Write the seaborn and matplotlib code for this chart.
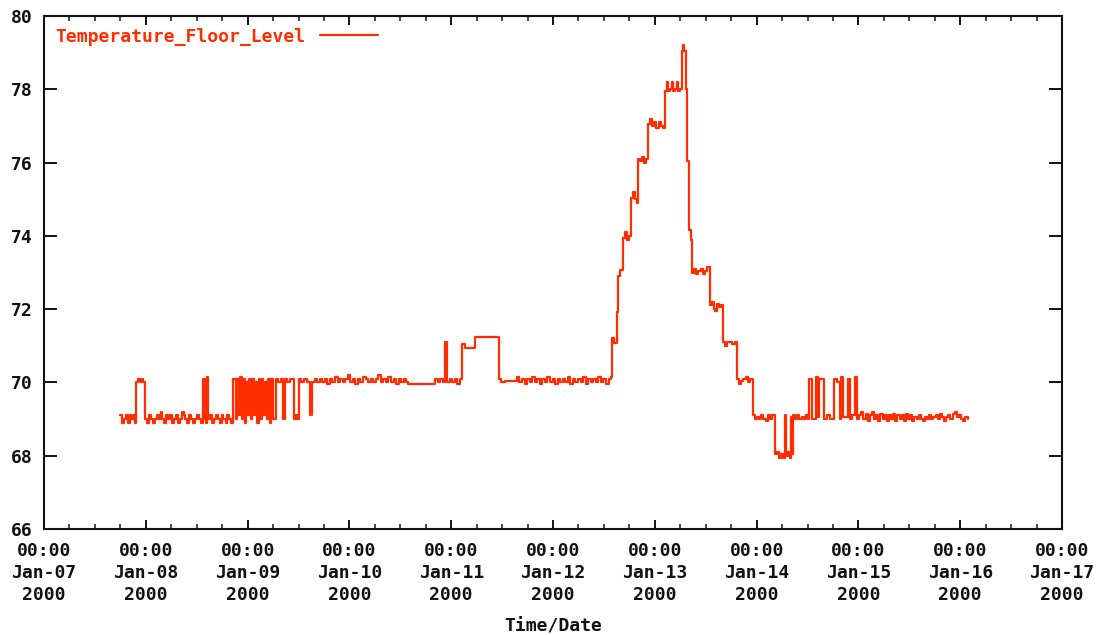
import numpy as np
import pandas as pd
import matplotlib
matplotlib.use('Agg')
import matplotlib.pyplot as plt
import matplotlib.dates as mdates
import seaborn as sns

series_name = 'Temperature_Floor_Level'
start_time = '2000-01-07 00:00'
x_range = ['2000-01-07 00:00', '2000-01-17 00:00']
y_ticks = [66, 68, 70, 72, 74, 76, 78, 80]
x_label = 'Time/Date'

# readings: hours after Jan-07 00:00 and temperature (step data)
hours = [
    17.9, 18.3, 18.8, 19.3, 19.8, 20.2, 20.6, 21.0, 21.4, 21.7, 22.1, 22.6, 23.0, 23.4,
    23.8, 24.2, 24.7, 25.2, 25.6, 26.1, 26.6, 27.0, 27.5, 27.9, 28.4, 28.8, 29.3, 29.8,
    30.2, 30.7, 31.1, 31.6, 32.0, 32.5, 32.9, 33.3, 33.8, 34.2, 34.7, 35.1, 35.6, 36.0,
    36.5, 36.9, 37.4, 37.6, 37.9, 38.2, 38.4, 38.7, 39.2, 39.6, 40.1, 40.5, 41.0, 41.4,
    41.9, 42.3, 42.8, 43.2, 43.7, 44.1,
    44.6, 45.2, 45.6, 46.0, 46.3, 46.7, 47.0, 47.4, 47.7, 48.1, 48.4, 48.8, 49.1, 49.5,
    49.8, 50.3, 50.6, 51.0, 51.3, 51.7, 52.0, 52.5, 52.8, 53.3, 53.6, 54.0, 54.6,
    55.2, 55.8, 56.3, 56.8, 57.4, 58.0, 58.9, 59.3, 59.6, 60.0, 60.7, 61.3, 62.0, 62.7, 63.2,
    63.8, 64.4, 65.0, 65.6, 66.2, 66.8, 67.4, 68.0, 68.6, 69.2, 69.8, 70.4, 71.0, 71.6,
    72.2, 72.8, 73.4, 74.0, 74.6, 75.2, 75.8, 76.4, 77.0, 77.6, 78.2, 78.8, 79.4, 80.0,
    80.6, 81.2, 81.8, 82.4, 83.0, 83.6, 84.2, 84.8, 85.3, 85.8,
    92.2, 92.8, 93.4, 94.0, 94.5, 95.0, 95.6, 96.2, 96.8, 97.4, 98.0, 98.5, 99.3, 101.6,
    107.3, 107.8, 108.7, 111.5,
    112.1, 112.7, 113.3, 113.9, 114.5, 115.1, 115.7, 116.3, 116.9, 117.5, 118.1, 118.7,
    119.3, 119.9, 120.5, 121.1, 121.7, 122.3, 122.9, 123.5, 124.1, 124.7, 125.3, 125.9,
    126.5, 127.1, 127.7, 128.3, 128.9, 129.5, 130.1, 130.7, 131.3, 131.9, 132.5, 133.1, 133.6,
    133.9, 134.3, 135.1, 135.3, 135.8, 136.5, 137.0, 137.4, 138.0, 138.4, 138.9, 139.3,
    139.7, 140.0, 140.5, 141.0, 141.5, 142.0, 142.4, 142.9, 143.4, 143.9, 144.4, 144.9,
    145.4, 145.9, 146.4, 146.8, 147.0, 147.5, 148.0, 148.2, 148.8, 149.3, 149.5, 150.0,
    150.4, 150.7, 151.0, 151.4, 151.6, 152.1, 152.5, 152.8, 153.3, 153.8, 154.3, 154.8,
    155.3, 155.8, 156.3, 157.0, 157.5, 157.9, 158.3, 158.7, 159.2, 159.6, 160.1, 160.6,
    161.0, 161.6, 162.2, 162.8, 163.4, 163.9, 164.4, 164.9, 165.4, 165.9, 166.4,
    167.1, 167.6, 168.1, 168.6, 169.1, 169.6, 170.1, 170.6, 171.1, 171.6,
    172.3, 172.8, 173.3, 173.8, 174.2, 174.7, 175.0, 175.5, 175.9, 176.2, 176.4, 176.6,
    177.1, 177.6, 178.1, 178.6, 179.1, 179.6, 180.1,
    180.4, 181.1, 182.0, 182.5, 182.7, 183.9, 184.5, 185.2, 186.2, 187.0, 187.7, 187.9,
    188.4, 189.5, 190.0, 190.6, 191.2, 191.7,
    192.2, 192.7, 193.2, 193.7, 194.2, 194.7, 195.2, 195.7, 196.2, 196.7, 197.2, 197.7,
    198.2, 198.7, 199.2, 199.7, 200.2, 200.7, 201.2, 201.7, 202.2, 202.7, 203.2, 203.7,
    204.2, 204.7, 205.2, 205.7, 206.2, 206.7, 207.2, 207.7, 208.2, 208.7, 209.2, 209.7,
    210.2, 210.7, 211.2, 211.7, 212.2, 212.7, 213.2, 213.7, 214.2, 214.7, 215.2, 215.7,
    216.2, 216.7, 217.2, 217.8,
]
temps = [
    69.1, 68.9, 69.0, 69.1, 68.9, 69.1, 69.0, 69.1, 68.9, 70.0, 70.1, 70.0, 70.1, 70.0,
    69.0, 68.9, 69.1, 69.0, 68.9, 69.0, 69.1, 69.0, 69.2, 69.0, 68.9, 69.1, 69.0, 69.1,
    68.9, 69.0, 69.1, 68.9, 69.0, 69.2, 69.1, 69.0, 68.9, 69.1, 69.0, 68.9, 69.0, 69.1,
    69.0, 68.9, 69.0, 70.1, 69.0, 68.9, 70.15, 69.0, 69.1, 68.9, 69.0, 69.1, 69.0, 68.9,
    69.1, 69.0, 68.9, 69.1, 69.0, 68.9,
    70.1, 69.0, 70.1, 69.1, 70.15, 69.0, 70.1, 68.9, 70.0, 69.1, 70.1, 69.0, 70.1, 69.1,
    70.0, 68.9, 70.1, 69.0, 70.1, 69.1, 70.0, 69.0, 70.1, 68.9, 70.1, 69.0, 70.1,
    70.0, 70.1, 69.0, 70.1, 70.0, 70.1, 69.0, 69.1, 69.0, 70.1, 70.0, 70.1, 70.0, 69.1, 70.0,
    70.1, 70.0, 70.1, 70.0, 70.1, 69.95, 70.1, 70.0, 70.15, 70.0, 70.1, 70.0, 70.1, 70.2,
    70.0, 70.1, 69.95, 70.1, 70.0, 70.15, 70.1, 70.0, 70.1, 70.0, 70.1, 70.2, 70.0, 70.1,
    70.0, 70.15, 70.0, 70.1, 69.95, 70.1, 70.0, 70.1, 70.0, 69.97,
    70.1, 70.0, 70.1, 70.0, 71.1, 70.0, 70.1, 70.0, 70.1, 69.97, 70.1, 71.05, 70.95, 71.25,
    70.1, 70.0, 70.05, 70.15,
    70.0, 70.1, 69.95, 70.1, 70.0, 70.15, 70.0, 70.1, 69.95, 70.1, 70.0, 70.15,
    70.0, 70.1, 69.95, 70.1, 70.0, 70.1, 70.0, 70.15, 69.95, 70.1, 70.0, 70.1,
    70.0, 70.15, 69.95, 70.1, 70.0, 70.1, 70.0, 70.15, 70.0, 70.1, 69.95, 70.1, 70.15,
    71.2, 71.07, 71.93, 72.9, 73.07, 73.94, 74.1, 73.9, 74.0, 75.03, 75.2, 75.0,
    74.9, 76.1, 76.05, 76.15, 76.0, 76.1, 77.05, 77.2, 77.0, 77.1, 76.95, 77.1,
    77.0, 76.95, 77.95, 78.2, 77.95, 78.0, 78.2, 77.95, 78.0, 78.2, 77.95, 78.0,
    79.05, 79.2, 79.05, 78.0, 76.05, 74.15, 73.9, 73.0, 73.1, 72.95, 73.05, 73.1,
    72.95, 73.05, 73.15, 72.1, 72.2, 72.0, 71.95, 72.15, 72.05, 72.1, 71.1, 71.0,
    71.1, 71.1, 71.05, 71.1, 70.1, 69.95, 70.05, 70.1, 70.15, 70.0, 70.1,
    69.1, 69.0, 69.05, 69.0, 69.1, 69.0, 68.95, 69.1, 69.0, 69.1,
    68.05, 68.1, 67.95, 68.05, 67.95, 69.1, 68.0, 68.1, 67.95, 69.05, 68.05, 69.1,
    69.0, 69.1, 69.0, 69.05, 69.0, 69.1, 69.0,
    70.1, 69.0, 70.15, 69.05, 70.1, 69.0, 69.1, 69.0, 70.1, 70.0, 69.0, 70.15,
    69.05, 70.1, 69.0, 69.1, 70.15, 69.0,
    69.1, 69.2, 69.0, 69.15, 68.95, 69.1, 69.2, 69.0, 69.1, 68.95, 69.15, 69.0,
    69.1, 68.95, 69.1, 69.0, 69.15, 68.95, 69.1, 69.0, 69.1, 68.95, 69.15, 69.0,
    69.1, 68.95, 69.05, 69.0, 69.1, 69.0, 68.95, 69.05, 69.0, 69.1, 69.0, 69.05,
    69.1, 69.0, 69.15, 69.05, 68.95, 69.05, 69.1, 69.0, 69.15, 69.2, 69.05, 69.1,
    69.0, 68.95, 69.05, 69.0,
]

line_color = '#ff2d00'
font_size = 13

sns.set_style('ticks')
plt.rcParams['font.family'] = ['DejaVu Sans Mono', 'DejaVu Sans']
plt.rcParams['font.weight'] = 'bold'
plt.rcParams['axes.labelweight'] = 'bold'

df = pd.DataFrame({
    'time': pd.Timestamp(start_time) + pd.to_timedelta(hours, unit='h'),
    series_name: temps,
})

W, H = 1099, 635
fig = plt.figure(figsize=(W / 100, H / 100), dpi=100)
ax = fig.add_axes([44 / W, (H - 529) / H, (1062 - 44) / W, (529 - 16) / H])

sns.lineplot(data=df, x='time', y=series_name, drawstyle='steps-post',
             color=line_color, linewidth=1.6, label=series_name, ax=ax)

ax.set_xlim(pd.Timestamp(x_range[0]), pd.Timestamp(x_range[1]))
ax.set_ylim(y_ticks[0], y_ticks[-1])
ax.set_yticks(y_ticks)
ax.xaxis.set_major_locator(mdates.DayLocator())
ax.xaxis.set_minor_locator(mdates.HourLocator(byhour=[6, 12, 18]))
ax.xaxis.set_major_formatter(mdates.DateFormatter('%H:%M\n%b-%d\n%Y'))

for s in ax.spines.values():
    s.set_linewidth(1.5)
    s.set_color('#111111')

ax.tick_params(axis='x', which='major', direction='in', length=6.5, width=1.4,
               top=True, bottom=True, pad=9, labelsize=font_size, colors='#111111')
ax.tick_params(axis='x', which='minor', direction='in', length=3.3, width=1.2,
               top=True, bottom=True)
ax.tick_params(axis='y', which='major', direction='in', length=9.5, width=1.4,
               left=True, right=True, pad=8, labelsize=font_size, colors='#111111')
for lbl in ax.get_xticklabels() + ax.get_yticklabels():
    lbl.set_fontweight('bold')
    lbl.set_linespacing(1.3)

ax.set_xlabel(x_label, fontsize=font_size, fontweight='bold', labelpad=10, color='#111111')
ax.set_ylabel('')

leg = ax.legend(loc='upper left', bbox_to_anchor=(0.0, 1.0), frameon=False,
                markerfirst=False, handlelength=3.2, handletextpad=0.8,
                fontsize=font_size, borderaxespad=0.25, labelcolor=line_color)
for t in leg.get_texts():
    t.set_fontweight('bold')

fig.savefig('out.png', dpi=100)
